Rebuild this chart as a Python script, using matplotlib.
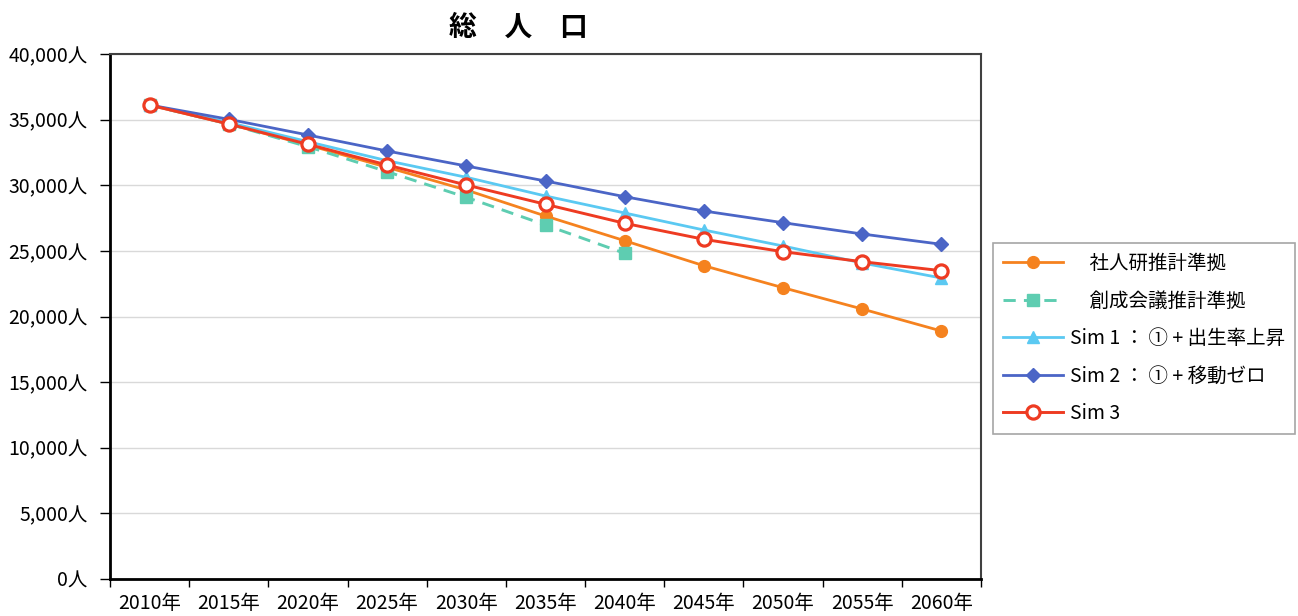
import matplotlib
matplotlib.use("Agg")
import matplotlib.pyplot as plt
from matplotlib.ticker import FuncFormatter, FixedLocator

plt.rcParams['font.family'] = ['Noto Sans CJK JP', 'DejaVu Sans']

years = ["2010年", "2015年", "2020年", "2025年", "2030年", "2035年",
         "2040年", "2045年", "2050年", "2055年", "2060年"]

shajinken = [36114, 34667, 33067, 31368, 29638, 27657, 25775, 23870, 22194, 20571, 18895]
sousei = [36114, 34667, 32938, 31032, 29082, 26971, 24815]
sim1 = [36114, 34781, 33318, 31871, 30606, 29181, 27886, 26590, 25371, 24076, 22933]
sim2 = [36114, 35025, 33829, 32610, 31467, 30324, 29128, 28038, 27147, 26286, 25501]
sim3 = [36114, 34667, 33120, 31543, 30019, 28549, 27101, 25882, 24937, 24175, 23490]

labels = ["\u3000社人研推計準拠", "\u3000創成会議推計準拠",
          "Sim 1 ： ① + 出生率上昇", "Sim 2 ： ① + 移動ゼロ", "Sim 3"]

yticks = list(range(0, 40001, 5000))

W, H = 1298, 616
fig = plt.figure(figsize=(W / 100, H / 100), dpi=100)
ax = fig.add_axes([110 / W, (H - 579) / H, (981 - 110) / W, (579 - 54) / H])

x_all = list(range(len(years)))

c_orange = "#F5821F"
c_green = "#5ECDB1"
c_lblue = "#5BC9F2"
c_blue = "#4B65C6"
c_red = "#EE3B22"

l1, = ax.plot(x_all, shajinken, color=c_orange, lw=2.0, marker="o", ms=8.5,
              mfc=c_orange, mec=c_orange, zorder=3)
l2, = ax.plot(x_all[:len(sousei)], sousei, color=c_green, lw=2.1, ls=(0, (4.2, 2.8)),
              marker="s", ms=8, mfc=c_green, mec=c_green, zorder=4)
l3, = ax.plot(x_all, sim1, color=c_lblue, lw=2.0, marker="^", ms=8,
              mfc=c_lblue, mec=c_lblue, zorder=5)
l4, = ax.plot(x_all, sim2, color=c_blue, lw=2.0, marker="D", ms=7,
              mfc=c_blue, mec=c_blue, zorder=6)
l5, = ax.plot(x_all, sim3, color=c_red, lw=2.1, marker="o", ms=9.5,
              mfc="white", mec=c_red, mew=2.3, zorder=7)

ax.set_xlim(-0.5, len(years) - 0.5)
ax.set_ylim(0, 40000)
ax.set_xticks(x_all)
ax.set_xticklabels(years, fontsize=14)
ax.xaxis.set_minor_locator(FixedLocator([i - 0.5 for i in range(len(years) + 1)]))
ax.tick_params(axis='x', which='major', length=0, pad=10)
ax.tick_params(axis='x', which='minor', length=6, width=1.0, direction='out', color='black')
ax.set_yticks(yticks)
ax.yaxis.set_major_formatter(FuncFormatter(lambda v, p: f"{int(v):,}人"))
ax.tick_params(axis='y', length=7, width=1.0, direction='out', pad=9, labelsize=14)

ax.grid(axis='y', color='#D9D9D9', lw=1.0, zorder=0)
ax.set_axisbelow(True)
for s in ['left', 'bottom']:
    ax.spines[s].set_color('black')
    ax.spines[s].set_linewidth(2.0)
for s in ['top', 'right']:
    ax.spines[s].set_color('#404040')
    ax.spines[s].set_linewidth(1.5)

fig.text(518 / W, 1 - 28 / H, "総　人　口", ha='center', va='center',
         fontsize=20, fontweight='bold')

leg = fig.legend([l1, l2, l3, l4, l5], labels, loc='center left',
                 bbox_to_anchor=(993 / W, 1 - 338.5 / H), fontsize=14,
                 handlelength=3.1, handletextpad=0.36, labelspacing=0.85,
                 borderpad=0.5, borderaxespad=0, frameon=True, fancybox=False,
                 edgecolor='#A6A6A6', framealpha=1)
leg.get_frame().set_linewidth(1.2)

fig.savefig("out.png", dpi=100)
